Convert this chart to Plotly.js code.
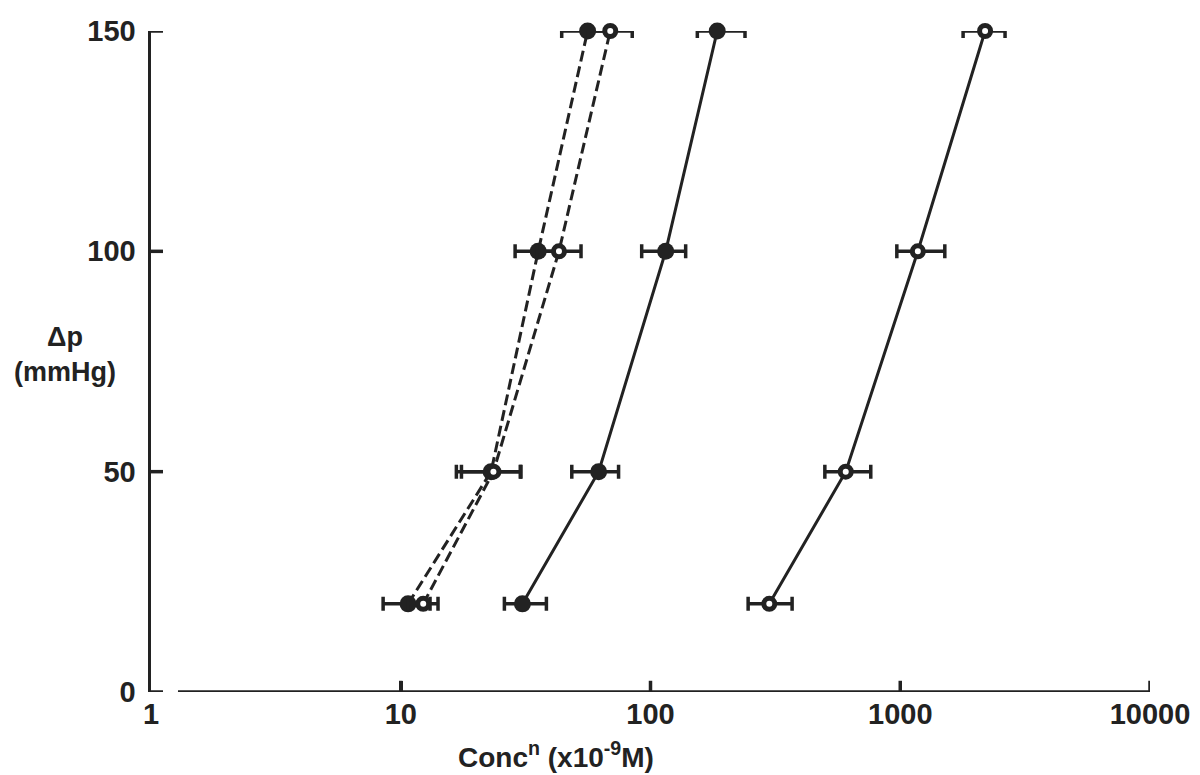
<!DOCTYPE html>
<html>
<head>
<meta charset="utf-8">
<script src="https://cdn.plot.ly/plotly-3.0.1.min.js"></script>
<style>html,body{margin:0;padding:0;background:#fff;}#chart{width:1200px;height:775px;}</style>
</head>
<body>
<div id="chart"></div>
<script>
// Pressure levels (mmHg)
const pressure = [20, 50, 100, 150];

// Dashed, filled circles
const dashFilledConc = [10.7, 23.0, 35.5, 56];
const dashFilledErrPlus = [2.4, 7.3, 8.0, 12.6];
const dashFilledErrMinus = [2.2, 6.3, 6.8, 11.9];

// Dashed, open circles
const dashOpenConc = [12.3, 23.5, 43, 69];
const dashOpenErrPlus = [1.8, 6.6, 9.7, 15.5];
const dashOpenErrMinus = [1.6, 6.0, 7.9, 12.7];

// Solid, filled circles
const solidFilledConc = [30.7, 62, 115, 185];
const solidFilledErrPlus = [7.6, 12.5, 23.3, 54];
const solidFilledErrMinus = [4.7, 13.6, 22.8, 31];

// Solid, open circles
const solidOpenConc = [299, 605, 1176, 2186];
const solidOpenErrPlus = [70, 157, 332, 442];
const solidOpenErrMinus = [53, 106, 207, 401];

const xTickVals = [1, 10, 100, 1000, 10000];
const xTickText = ['1', '10', '100', '1000', '10000'];
const yTickVals = [0, 50, 100, 150];
const yTickText = ['0', '50', '100', '150'];

const INK = '#222222';
const FONT = '"Liberation Sans Narrow", "Liberation Sans", Arial, sans-serif';

function series(x, ep, em, dash, filled) {
  return {
    type: 'scatter', mode: 'lines+markers',
    x: x, y: pressure,
    line: {color: INK, width: 3, dash: dash},
    marker: filled
      ? {symbol: 'circle', size: 17, color: INK, line: {color: INK, width: 0}}
      : {symbol: 'circle', size: 11, color: '#ffffff', line: {color: INK, width: 5}},
    error_x: {type: 'data', symmetric: false, array: ep, arrayminus: em,
              color: INK, thickness: 3.5, width: 7},
    cliponaxis: false, showlegend: false, hoverinfo: 'x+y'
  };
}

const traces = [
  series(dashFilledConc, dashFilledErrPlus, dashFilledErrMinus, '11px,5px', true),
  series(dashOpenConc, dashOpenErrPlus, dashOpenErrMinus, '11px,5px', false),
  series(solidFilledConc, solidFilledErrPlus, solidFilledErrMinus, 'solid', true),
  series(solidOpenConc, solidOpenErrPlus, solidOpenErrMinus, 'solid', false)
];

// Inward tick marks built from the tick value arrays (covers the range-edge ticks too)
const tickShapes = [];
xTickVals.slice(1).forEach(v => tickShapes.push({
  type: 'line', xref: 'x', yref: 'paper', x0: v, x1: v, y0: 0, y1: 0.017,
  line: {color: INK, width: 3.5}, layer: 'above'
}));
yTickVals.forEach(v => tickShapes.push({
  type: 'line', xref: 'paper', yref: 'y', x0: 0, x1: 0.012, y0: v, y1: v,
  line: {color: INK, width: 3.5}, layer: 'above'
}));

const layout = {
  width: 1200, height: 775,
  margin: {l: 151, r: 50, t: 31, b: 83},
  paper_bgcolor: '#ffffff', plot_bgcolor: '#ffffff',
  showlegend: false,
  xaxis: {
    type: 'log', range: [0, 4],
    tickmode: 'array', tickvals: xTickVals, ticktext: xTickText,
    ticks: 'inside', ticklen: 11, tickwidth: 3.5, tickcolor: INK,
    showline: false, showgrid: false, zeroline: false,
    tickfont: {family: FONT, size: 29, color: INK, weight: 'bold'},
    ticklabelstandoff: 2
  },
  yaxis: {
    range: [0, 150],
    tickmode: 'array', tickvals: yTickVals, ticktext: yTickText,
    ticks: 'inside', ticklen: 11, tickwidth: 3.5, tickcolor: INK,
    showline: true, linecolor: INK, linewidth: 3.5,
    showgrid: false, zeroline: false,
    tickfont: {family: FONT, size: 29, color: INK, weight: 'bold'},
    ticklabelstandoff: 6
  },
  shapes: [
    {type: 'line', xref: 'paper', yref: 'y', x0: 0.027, x1: 1, y0: 0, y1: 0,
     line: {color: INK, width: 3.5}}
  ].concat(tickShapes),
  annotations: [
    {xref: 'paper', yref: 'paper', x: -0.086, y: 0.51, xanchor: 'center', yanchor: 'middle',
     text: 'Δp<br>(mmHg)', showarrow: false, align: 'center',
     font: {family: FONT, size: 27, color: INK, weight: 'bold'}},
    {xref: 'paper', yref: 'paper', x: 0.405, y: -0.095, xanchor: 'center', yanchor: 'middle',
     text: 'Conc<sup>n</sup> (x10<sup>-9</sup>M)', showarrow: false,
     font: {family: FONT, size: 28, color: INK, weight: 'bold'}}
  ]
};

Plotly.newPlot('chart', traces, layout, {displayModeBar: false, staticPlot: true});
</script>
</body>
</html>
